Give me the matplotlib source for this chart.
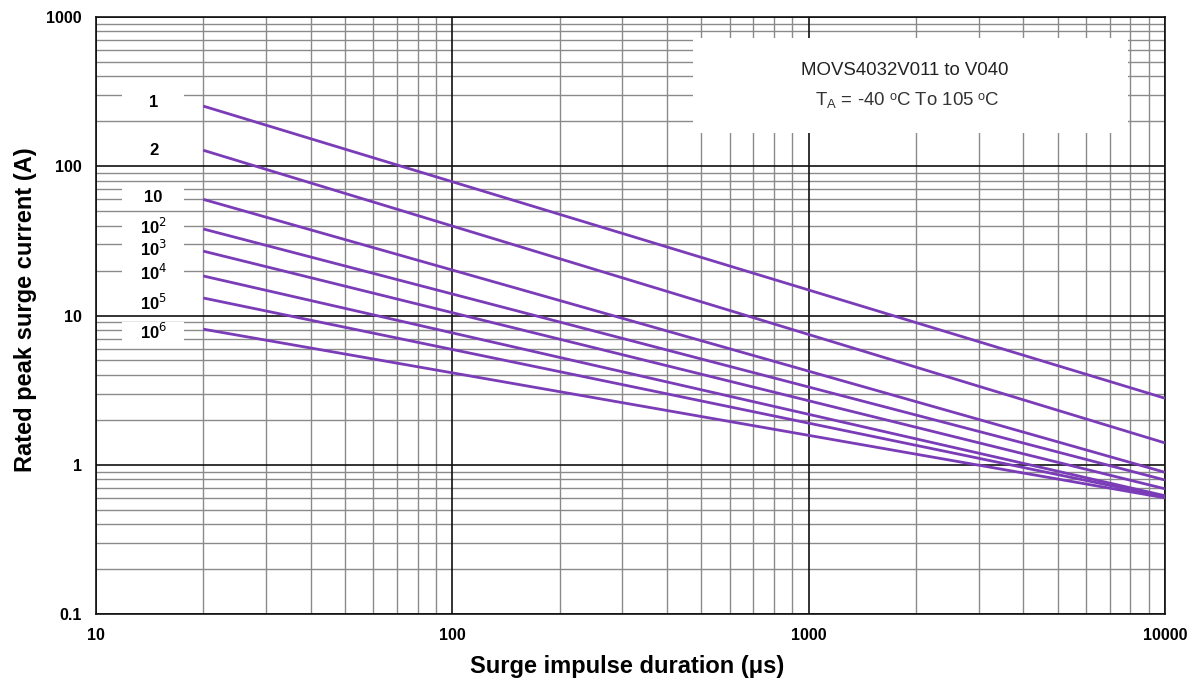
import matplotlib
matplotlib.use("Agg")
import matplotlib.pyplot as plt
from matplotlib.ticker import FixedLocator, NullFormatter
from matplotlib.patches import Rectangle
import numpy as np

# Data
series_labels = ["1", "2", "10", "10$^2$", "10$^3$", "10$^4$", "10$^5$", "10$^6$"]
x_start = 20
x_end = 10000
i_start = [253, 128, 60, 38, 27, 18.4, 13.1, 8.1]
i_end = [2.79, 1.40, 0.89, 0.79, 0.69, 0.62, 0.61, 0.60]
label_y = [266, 128, 62, 39, 28, 19.2, 12.2, 7.8]
x_ticks = [10, 100, 1000, 10000]
x_ticklabels = ["10", "100", "1000", "10000"]
y_ticks = [0.1, 1, 10, 100, 1000]
y_ticklabels = ["0.1", "1", "10", "100", "1000"]
title_lines = ["MOVS4032V011 to V040", "T$_\\mathregular{A}$ = -40 \u1d52C To 105 \u1d52C"]

plt.rcParams['font.family'] = ['Liberation Sans', 'DejaVu Sans']
fig = plt.figure(figsize=(11.91, 6.94), dpi=100)
ax = fig.add_axes([96/1191, 1-614/694, (1165-96)/1191, (614-17)/694])
ax.set_xscale('log')
ax.set_yscale('log')
ax.set_xlim(10, 10000)
ax.set_ylim(0.1, 1000)

# grid
minor_x = [m * 10**d for d in range(1, 4) for m in range(2, 10)]
minor_y = [m * 10.0**d for d in range(-1, 3) for m in range(2, 10)]
for v in minor_x:
    ax.axvline(v, color='#8a8a8a', lw=1.0, zorder=1)
for v in minor_y:
    ax.axhline(v, color='#8a8a8a', lw=1.0, zorder=1)
for v in x_ticks:
    ax.axvline(v, color='#111111', lw=1.2, zorder=1.5)
for v in y_ticks:
    ax.axhline(v, color='#111111', lw=1.2, zorder=1.5)

ax.xaxis.set_major_locator(FixedLocator(x_ticks))
ax.yaxis.set_major_locator(FixedLocator(y_ticks))
ax.xaxis.set_minor_locator(FixedLocator([]))
ax.yaxis.set_minor_locator(FixedLocator([]))
ax.xaxis.set_minor_formatter(NullFormatter())
ax.yaxis.set_minor_formatter(NullFormatter())
ax.set_xticklabels(x_ticklabels, fontweight='bold', fontsize=11.5)
ax.set_yticklabels(y_ticklabels, fontweight='bold', fontsize=11.5)
ax.tick_params(length=0, pad=10)
for s in ax.spines.values():
    s.set_color('#111111')
    s.set_linewidth(1.2)

for s_lab, a, b, ly in zip(series_labels, i_start, i_end, label_y):
    ax.plot([x_start, x_end], [a, b], color='#7b3cb8', lw=2.0, zorder=3, solid_capstyle='butt')
    ax.add_patch(Rectangle((11.8, ly / 1.16), 17.7 - 11.8, ly * 1.16 - ly / 1.16,
                           facecolor='white', edgecolor='none', zorder=2.8))
    ax.text(14.5, ly, s_lab, ha='center', va='center', fontsize=12, fontweight='bold',
            family=['Liberation Sans', 'DejaVu Sans'], zorder=4)

# annotation box
ax.fill_between([474, 7870], 167, 723, color='white', zorder=2.5, lw=0)
ax.text(1865, 440, title_lines[0], ha='center', va='center', fontsize=13.4, zorder=4, color='#222222')
ax.text(1890, 275, title_lines[1], ha='center', va='center', fontsize=13.4, zorder=4, color='#333333')

ax.set_xlabel("Surge impulse duration (\u03bcs)", fontsize=17, fontweight='bold')
ax.set_ylabel("Rated peak surge current (A)", fontsize=17, fontweight='bold')
ax.xaxis.set_label_coords((627 - 96) / 1069, -(655 - 614) / 597)
ax.yaxis.set_label_coords((37 - 96) / 1069, (614 - 310) / 597)

fig.savefig("out.png", dpi=100)
